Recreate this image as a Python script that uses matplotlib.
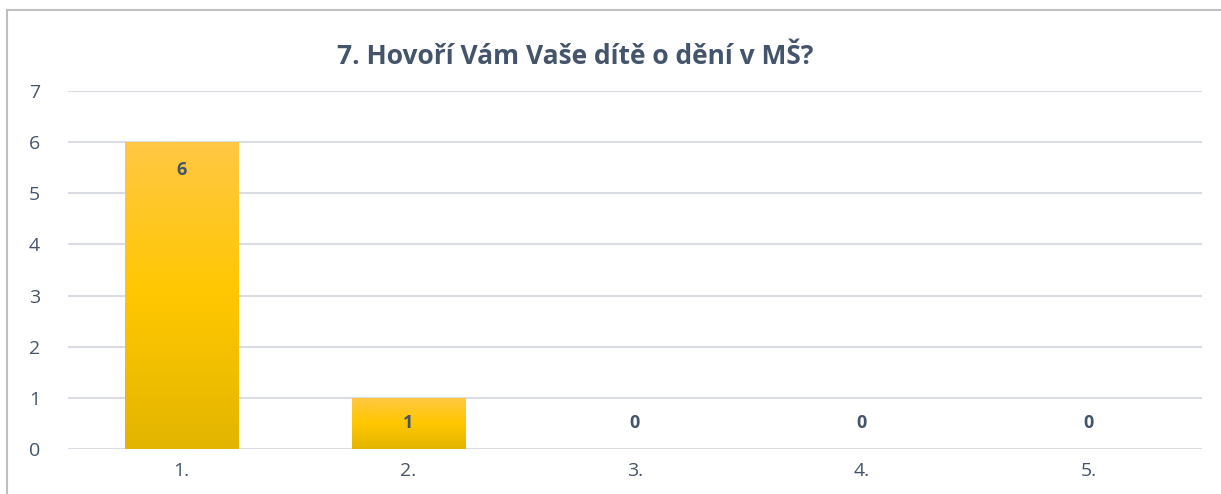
import numpy as np
import matplotlib
matplotlib.use("Agg")
import matplotlib.pyplot as plt
from matplotlib.colors import LinearSegmentedColormap
from matplotlib.patches import Rectangle

# Data
categories = ["1.", "2.", "3.", "4.", "5."]
values = [6, 1, 0, 0, 0]
title = "7. Hovoří Vám Vaše dítě o dění v MŠ?"

text_color = "#44546A"
grid_color = "#D9DDE3"
plt.rcParams["font.family"] = ["Open Sans", "DejaVu Sans"]

fig = plt.figure(figsize=(12.21, 4.94), dpi=100)
ax = fig.add_axes([68 / 1221, 1 - 449 / 494, 1134 / 1221, 358 / 494])

x = np.arange(len(categories))
bars = ax.bar(x, values, width=0.5, color="none", zorder=3)

# vertical gradient fill, like the Excel bars
grad = LinearSegmentedColormap.from_list("gold", ["#E3B500", "#FFC700", "#FFC844"])
for b in bars:
    h = b.get_height()
    if h <= 0:
        continue
    x0, w = b.get_x(), b.get_width()
    im = ax.imshow(np.linspace(0, 1, 256).reshape(-1, 1), cmap=grad, origin="lower",
                   extent=[x0, x0 + w, 0, h], aspect="auto", zorder=3)
    im.set_clip_path(Rectangle((x0, 0), w, h, transform=ax.transData))

for xi, v in zip(x, values):
    ax.text(xi, max(v - 0.55, 0.5), str(v), ha="center", va="center",
            fontsize=13, fontweight="bold", color=text_color, zorder=4)

ax.set_xlim(-0.5, len(categories) - 0.5)
ax.set_ylim(0, 7)
ax.set_yticks(range(0, 8))
ax.set_xticks(x)
ax.set_xticklabels(categories)
ax.tick_params(axis="both", length=0, labelsize=14, colors=text_color)
ax.tick_params(axis="y", pad=24)
ax.tick_params(axis="x", pad=9)
for lbl in ax.get_yticklabels():
    lbl.set_horizontalalignment("center")
ax.grid(axis="y", color=grid_color, linewidth=1.5, zorder=0)
ax.set_axisbelow(True)
for s in ax.spines.values():
    s.set_visible(False)

fig.text(575 / 1221, 1 - 56 / 494, title, ha="center", va="center",
         fontsize=19, fontweight="bold", color=text_color)

# chart frame (cropped on the right and bottom)
fig.add_artist(plt.Line2D([7 / 1221, 7 / 1221], [0, 1 - 10 / 494],
                          transform=fig.transFigure, color="#BFBFBF", lw=1.5))
fig.add_artist(plt.Line2D([7 / 1221, 1], [1 - 10 / 494, 1 - 10 / 494],
                          transform=fig.transFigure, color="#BFBFBF", lw=1.5))

fig.savefig("out.png", dpi=100)
